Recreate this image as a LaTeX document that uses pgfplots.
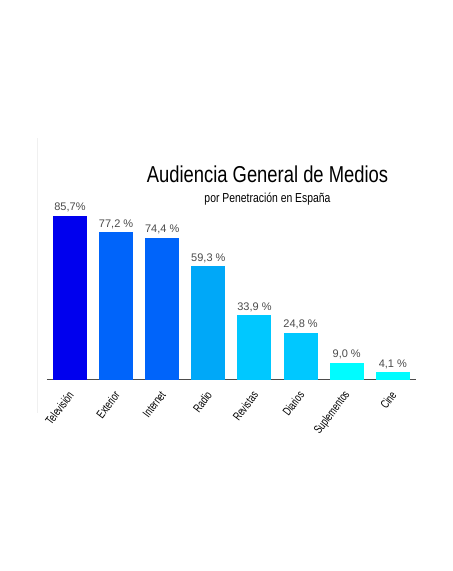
\documentclass[border=0pt]{standalone}
\usepackage{fontspec}
\setmainfont{Liberation Sans}
\newfontfamily\cond[FakeStretch=0.8]{Liberation Sans}
\newfontfamily\condt[FakeStretch=0.72]{Liberation Sans}
\usepackage{pgfplots}
\pgfplotsset{compat=1.18}
\definecolor{cTV}{HTML}{0000EE}
\definecolor{cEx}{HTML}{0064FA}
\definecolor{cRa}{HTML}{00A8F8}
\definecolor{cRe}{HTML}{00C8FF}
\definecolor{cSu}{HTML}{00FCFF}
\definecolor{lbl}{HTML}{4A4A4A}
\begin{document}
\begin{tikzpicture}
\path[use as bounding box] (0,0) rectangle (453bp,571bp);
\draw[black!6, line width=0.8bp] (37bp,158bp) -- (37bp,433bp);
\node[anchor=base, font=\cond\fontsize{23bp}{25bp}\selectfont] at (267.5bp,388bp) {Audiencia General de Medios};
\node[anchor=base, font=\cond\fontsize{13bp}{15bp}\selectfont] at (267.5bp,368bp) {por Penetración en España};
\begin{axis}[
  at={(46.9bp,191bp)}, anchor=south west,
  scale only axis, width=369bp, height=191.5bp,
  xmin=-0.5, xmax=7.5, ymin=0, ymax=100,
  axis x line=bottom, axis y line=none,
  axis line style={-, draw=black!70, line width=1bp},
  xtick={0,1,2,3,4,5,6,7},
  xticklabels={Televisión,Exterior,Internet,Radio,Revistas,Diarios,Suplementos,Cine},
  major tick length=0pt,
  xticklabel style={font=\condt\fontsize{12bp}{14bp}\selectfont, yshift=-10bp, xshift=3bp, rotate=53, anchor=east},
  ybar, bar width=34bp, bar shift=0pt,
  every node near coord/.style={font=\fontsize{11bp}{13bp}\selectfont, text=lbl},
  clip=false,
]
\addplot[fill=cTV, draw=none, nodes near coords={85,7\%}] coordinates {(0,85.7)};
\addplot[fill=cEx, draw=none, nodes near coords={77,2 \%}] coordinates {(1,77.2)};
\addplot[fill=cEx, draw=none, nodes near coords={74,4 \%}] coordinates {(2,74.4)};
\addplot[fill=cRa, draw=none, nodes near coords={59,3 \%}] coordinates {(3,59.3)};
\addplot[fill=cRe, draw=none, nodes near coords={33,9 \%}] coordinates {(4,33.9)};
\addplot[fill=cRe, draw=none, nodes near coords={24,8 \%}] coordinates {(5,24.8)};
\addplot[fill=cSu, draw=none, nodes near coords={9,0 \%}] coordinates {(6,9.0)};
\addplot[fill=cSu, draw=none, nodes near coords={4,1 \%}] coordinates {(7,4.1)};
\end{axis}
\end{tikzpicture}
\end{document}
